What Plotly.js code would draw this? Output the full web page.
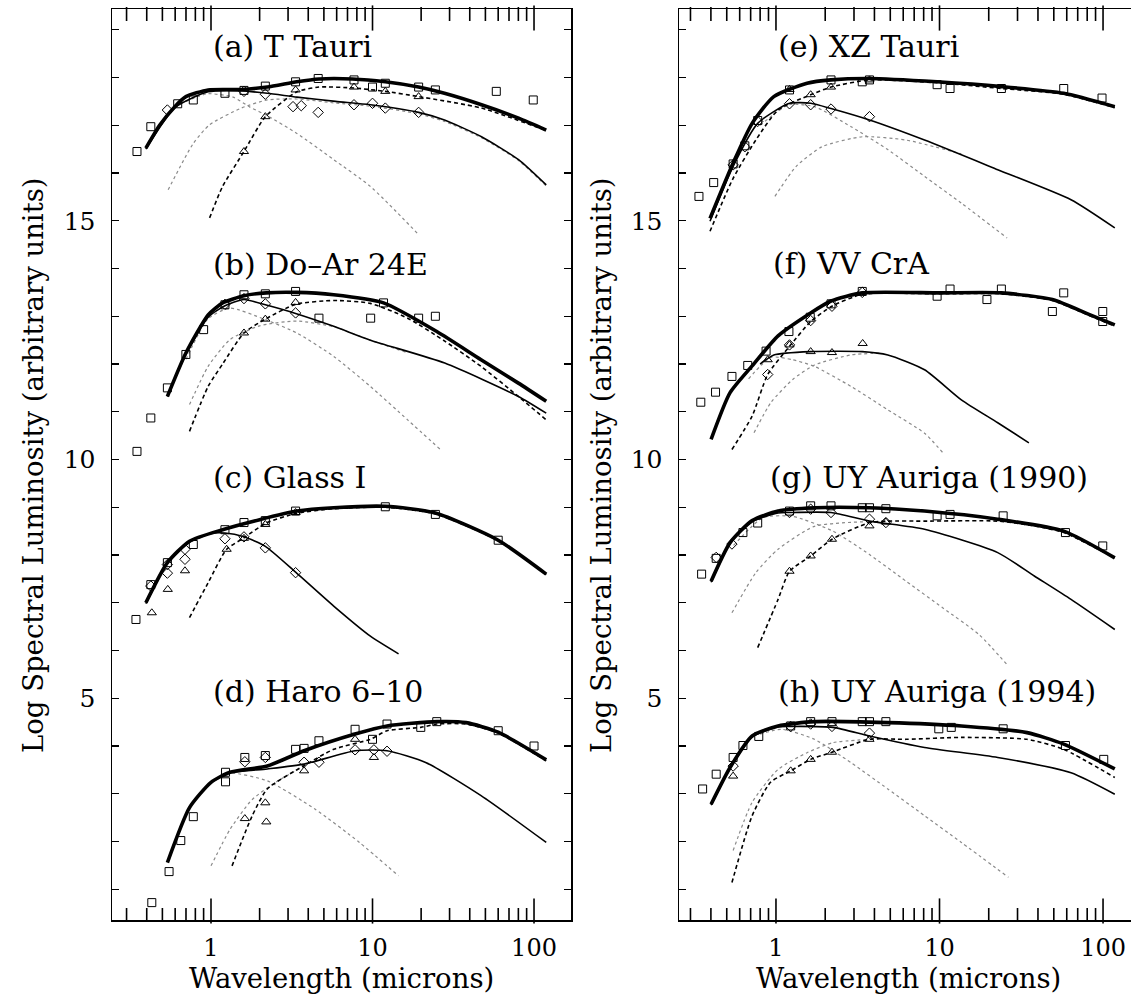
<!DOCTYPE html>
<html><head><meta charset="utf-8">
<script src="https://cdn.plot.ly/plotly-3.0.1.min.js"></script>
<style>html,body{margin:0;padding:0;background:#fff}#chart{width:1131px;height:996px}</style>
</head><body><div id="chart"></div>
<script>
// ---------- data: [wavelength (microns), log spectral luminosity] ----------
// (a) T Tauri
const a_sq = [[0.348,16.45],[0.424,16.97],[0.622,17.45],[0.777,17.53],[1.22,17.67],[1.60,17.73],[2.17,17.82],[3.34,17.91],[4.61,17.98],[7.68,17.95],[10.0,17.80],[12.0,17.88],[19.3,17.80],[24.5,17.74],[58.4,17.71],[98.9,17.53]];
const a_di = [[0.537,17.32],[1.60,17.71],[2.17,17.65],[3.22,17.39],[3.62,17.41],[4.61,17.27],[7.68,17.43],[10.0,17.46],[12.0,17.36],[19.3,17.27]];
const a_tr = [[1.60,16.45],[2.17,17.18],[3.34,17.74],[7.68,17.80],[12.0,17.71],[19.3,17.60]];
const a_tot = [[0.395,16.52],[0.483,17.01],[0.597,17.39],[0.699,17.60],[0.96,17.74],[1.54,17.75],[2.23,17.80],[3.40,17.91],[4.66,17.97],[7.49,17.97],[12.0,17.91],[19.3,17.80],[27.9,17.67],[47.3,17.43],[80.2,17.15],[119,16.90]];
const a_pri = [[0.395,16.50],[0.597,17.37],[0.96,17.70],[1.54,17.72],[2.23,17.67],[3.40,17.59],[5.9,17.50],[9.7,17.43],[19.3,17.27],[27.9,17.11],[47.3,16.76],[80.2,16.28],[119,15.75]];
const a_com = [[0.98,15.06],[1.18,15.72],[1.60,16.45],[2.17,17.18],[3.40,17.70],[4.66,17.80],[7.68,17.78],[12.0,17.71],[19.3,17.60],[47.3,17.36],[119,16.89]];
const a_star = [[0.7,17.5],[0.95,17.66],[1.37,17.59],[1.74,17.38],[2.23,17.20],[3.4,16.83],[5.75,16.28],[9.7,15.72],[19.3,14.71]];
const a_disk = [[0.543,15.65],[0.777,16.62],[0.98,17.01],[1.54,17.36],[2.23,17.53],[3.4,17.55],[5.75,17.47],[9.7,17.40],[19.3,17.24],[27.9,17.08],[47.3,16.74],[80.2,16.26],[119,15.73]];
// (b) Do-Ar 24E
const b_sq = [[0.348,10.17],[0.424,10.87],[0.537,11.50],[0.699,12.20],[0.90,12.72],[1.22,13.24],[1.60,13.45],[2.17,13.47],[3.34,13.52],[4.66,12.96],[9.74,12.96],[11.7,13.28],[19.3,12.96],[24.5,13.00]];
const b_di = [[1.22,13.25],[1.60,13.37],[2.17,13.26],[3.34,13.07]];
const b_tr = [[1.60,12.65],[2.17,12.94],[3.34,13.29]];
const b_tot = [[0.537,11.32],[0.699,12.23],[0.96,13.03],[1.18,13.28],[1.6,13.43],[2.2,13.49],[3.4,13.50],[5.75,13.45],[11.7,13.28],[25,12.68],[47,12.09],[80,11.60],[119,11.22]];
const b_pri = [[0.537,11.32],[0.699,12.2],[0.96,12.98],[1.22,13.22],[1.60,13.35],[2.17,13.24],[3.34,13.06],[5.75,12.79],[9.7,12.50],[28,12.02],[80,11.32],[119,10.97]];
const b_com = [[0.736,10.59],[0.96,11.53],[1.18,12.0],[1.60,12.65],[2.17,12.94],[3.34,13.25],[5.75,13.33],[9.7,13.27],[16.5,12.96],[28,12.48],[47,11.95],[80,11.32],[119,10.83]];
const b_star = [[0.7,12.1],[0.96,12.95],[1.31,13.17],[2.17,12.93],[3.4,12.65],[5.75,12.16],[9.7,11.53],[16.5,10.83],[26.5,10.20]];
const b_disk = [[0.736,11.15],[0.96,11.95],[1.31,12.51],[2.0,12.80],[3.4,12.90],[5.75,12.78],[9.7,12.50],[16,12.25]];
// (c) Glass I
const c_sq = [[0.343,6.65],[0.424,7.38],[0.537,7.84],[0.777,8.22],[1.22,8.53],[1.60,8.68],[2.17,8.72],[3.34,8.92],[12.0,9.01],[24.5,8.85],[60.0,8.31]];
const c_di = [[0.424,7.35],[0.537,7.62],[0.537,7.80],[0.69,7.91],[0.69,8.12],[1.22,8.34],[1.60,8.38],[2.17,8.15],[3.34,7.63]];
const c_tr = [[0.43,6.79],[0.54,7.28],[0.69,7.67],[1.25,8.12],[1.60,8.35],[2.17,8.64],[3.34,8.89]];
const c_tot = [[0.395,7.00],[0.537,7.84],[0.736,8.29],[1.18,8.53],[2.0,8.74],[3.4,8.92],[5.75,8.99],[12,9.02],[24.5,8.88],[60,8.31],[119,7.60]];
const c_pri = [[0.395,6.98],[0.537,7.82],[0.736,8.27],[1.0,8.45],[1.22,8.46],[1.6,8.38],[2.17,8.18],[3.34,7.64],[5.75,6.93],[9.7,6.30],[14.5,5.93]];
const c_com = [[0.736,6.69],[0.96,7.42],[1.25,8.12],[1.6,8.36],[2.17,8.66],[3.34,8.87],[5.75,8.97],[12,9.0],[24.5,8.86],[60,8.30],[119,7.59]];
// (d) Haro 6-10
const d_sq = [[0.43,0.72],[0.55,1.37],[0.65,2.02],[0.777,2.52],[1.23,3.25],[1.23,3.45],[1.62,3.76],[2.17,3.80],[3.34,3.93],[3.77,3.95],[4.66,4.11],[7.8,4.35],[10,4.14],[12.3,4.46],[19.9,4.39],[25,4.51],[60,4.32],[100,4.00]];
const d_di = [[1.62,3.67],[2.17,3.76],[3.77,3.66],[4.66,3.66],[7.8,3.92],[10.2,3.92],[12.3,3.89]];
const d_tr = [[1.62,2.48],[2.17,2.81],[2.2,2.41],[3.77,3.48],[7.8,4.14],[10.2,3.76]];
const d_tot = [[0.537,1.56],[0.736,2.71],[1.0,3.24],[1.31,3.45],[2.23,3.58],[3.77,3.90],[7.8,4.25],[12.3,4.42],[25,4.51],[38,4.49],[60,4.29],[119,3.71]];
const d_pri = [[1.0,3.24],[1.31,3.44],[2.23,3.52],[3.77,3.62],[7.8,3.90],[12.3,3.90],[21.5,3.65],[47,2.96],[119,1.98]];
const d_com = [[1.35,1.49],[1.80,2.54],[2.23,3.10],[3.77,3.59],[5.75,3.93],[9.7,4.14],[12.3,4.32],[19.9,4.39],[25,4.46],[38,4.46],[60,4.27],[119,3.69]];
const d_star = [[1.0,3.22],[1.31,3.43],[2.23,3.27],[4.4,2.68],[8.3,1.98],[14.5,1.28]];
const d_disk = [[1.0,1.49],[1.31,2.25],[1.8,2.88],[2.6,3.27],[3.77,3.58]];
// (e) XZ Tauri
const e_sq = [[0.338,15.51],[0.416,15.80],[0.547,16.19],[0.645,16.57],[0.773,17.10],[1.21,17.74],[2.17,17.95],[3.37,17.91],[3.73,17.95],[9.67,17.85],[11.6,17.77],[23.9,17.77],[57.5,17.77],[98.6,17.57]];
const e_di = [[0.547,16.17],[0.645,16.55],[0.773,17.08],[1.21,17.45],[1.63,17.43],[2.17,17.34],[3.73,17.18]];
const e_tr = [[1.21,17.75],[1.63,17.64],[2.17,17.80],[3.73,17.95]];
const e_tot = [[0.395,15.05],[0.547,16.21],[0.715,17.04],[0.97,17.60],[1.55,17.88],[2.17,17.95],[3.73,17.98],[9.67,17.91],[23.9,17.81],[57.5,17.67],[118,17.39]];
const e_pri = [[0.395,14.99],[0.547,16.14],[0.773,17.04],[1.21,17.46],[1.63,17.46],[2.17,17.35],[3.73,17.11],[8.1,16.69],[22.7,16.07],[63.7,15.44],[118,14.85]];
const e_com = [[0.395,14.78],[0.547,15.89],[0.753,16.69],[1.03,17.32],[1.63,17.64],[2.17,17.80],[3.73,17.95],[9.67,17.89],[23.9,17.77],[57.5,17.65],[118,17.37]];
const e_star = [[0.8,17.0],[1.2,17.43],[1.72,17.39],[2.88,16.97],[4.83,16.49],[8.1,15.93],[13.6,15.37],[25.9,14.64]];
const e_disk = [[0.985,15.51],[1.33,16.14],[1.91,16.55],[3.37,16.76],[6.25,16.69],[13.6,16.40]];
// (f) VV CrA
const f_sq = [[0.347,11.20],[0.427,11.41],[0.538,11.74],[0.672,11.97],[0.87,12.27],[1.2,12.68],[1.62,12.98],[2.17,13.26],[3.37,13.52],[9.67,13.42],[11.6,13.57],[19.5,13.35],[23.9,13.57],[49,13.10],[57.5,13.49],[99.6,13.10],[99.6,12.89]];
const f_di = [[0.89,11.78],[1.21,12.40],[1.63,12.91],[2.2,13.21],[3.37,13.50]];
const f_tr = [[0.89,12.09],[1.21,12.40],[1.63,12.26],[2.2,12.24],[3.39,12.43]];
const f_tot = [[0.401,10.42],[0.524,11.40],[0.715,11.96],[1.03,12.59],[1.63,13.07],[2.17,13.32],[3.37,13.49],[10,13.49],[23.9,13.49],[49,13.35],[82,13.04],[118,12.82]];
const f_pri = [[0.8,12.0],[0.97,12.19],[1.63,12.26],[3.37,12.26],[4.83,12.19],[8.1,11.88],[13.6,11.25],[22.7,10.77],[35.2,10.35]];
const f_com = [[0.538,10.21],[0.715,10.91],[0.89,11.78],[1.21,12.37],[1.63,12.89],[2.2,13.21],[3.37,13.46],[10,13.47],[23.9,13.47],[49,13.33],[82,13.02],[118,12.79]];
const f_star = [[0.68,11.69],[0.93,12.14],[1.26,12.09],[1.72,11.95],[2.88,11.53],[4.83,11.04],[8.1,10.55],[10.5,10.14]];
const f_disk = [[0.734,10.56],[0.93,11.19],[1.26,11.67],[1.72,11.98],[2.88,12.19],[4.35,12.23]];
// (g) UY Auriga (1990)
const g_sq = [[0.351,7.60],[0.431,7.93],[0.628,8.47],[0.773,8.67],[1.21,8.92],[1.63,9.03],[2.17,9.03],[3.37,8.99],[3.73,8.99],[4.7,8.97],[9.67,8.82],[11.6,8.85],[24.5,8.82],[58.9,8.47],[99.6,8.19]];
const g_di = [[0.431,7.95],[0.538,8.23],[1.21,8.89],[1.63,8.96],[2.17,8.89],[3.73,8.75],[4.7,8.68]];
const g_tr = [[1.21,7.66],[1.63,7.98],[2.2,8.33],[3.73,8.61],[4.7,8.69]];
const g_tot = [[0.401,7.45],[0.524,8.26],[0.715,8.72],[1.03,8.92],[1.72,8.99],[3.73,8.99],[8.1,8.92],[22.7,8.75],[57.5,8.50],[118,7.94]];
const g_pri = [[0.401,7.43],[0.524,8.24],[0.715,8.70],[1.03,8.88],[1.21,8.89],[2.17,8.89],[3.73,8.71],[8.1,8.54],[22.7,8.05],[38,7.56],[63.7,7.07],[118,6.44]];
const g_com = [[0.773,6.06],[1.03,7.07],[1.21,7.66],[1.63,7.98],[2.2,8.33],[3.73,8.68],[4.83,8.71],[8.1,8.71],[22.7,8.71],[38,8.61],[57.5,8.47],[118,7.94]];
const g_star = [[0.55,8.2],[0.83,8.78],[1.26,8.81],[2.23,8.50],[3.73,8.01],[6.25,7.45],[10.5,6.89],[17.5,6.33],[26.4,5.67]];
const g_disk = [[0.538,6.79],[0.753,7.63],[1.03,8.12],[1.72,8.60],[3.73,8.70]];
// (h) UY Auriga (1994)
const h_sq = [[0.356,3.10],[0.431,3.41],[0.547,3.76],[0.628,4.01],[0.785,4.20],[1.23,4.42],[1.63,4.51],[2.2,4.51],[3.37,4.51],[3.73,4.51],[4.7,4.51],[9.9,4.36],[11.8,4.39],[24.5,4.36],[58.9,4.01],[101,3.72]];
const h_di = [[0.547,3.58],[1.23,4.41],[1.63,4.46],[2.2,4.41],[3.73,4.27]];
const h_tr = [[0.547,3.37],[1.23,3.48],[1.63,3.72],[2.2,3.87],[3.73,4.14]];
const h_tot = [[0.401,2.78],[0.524,3.55],[0.715,4.21],[1.03,4.42],[1.72,4.51],[4.83,4.49],[13.6,4.42],[34.3,4.28],[57.5,4.04],[118,3.52]];
const h_pri = [[0.401,2.76],[0.524,3.53],[0.715,4.19],[1.03,4.40],[1.23,4.41],[2.23,4.39],[3.73,4.21],[8.1,3.97],[22.7,3.76],[63.7,3.44],[118,2.99]];
const h_com = [[0.538,1.14],[0.715,2.54],[0.926,3.24],[1.23,3.48],[1.63,3.72],[2.2,3.87],[3.73,4.14],[6.25,4.14],[13.6,4.18],[34.3,4.14],[57.5,3.93],[118,3.34]];
const h_star = [[0.8,4.25],[1.08,4.35],[1.72,4.14],[2.88,3.65],[4.83,3.10],[8.1,2.54],[13.6,1.98],[26.4,1.25]];
const h_disk = [[0.547,1.81],[0.715,2.82],[1.03,3.51],[1.55,3.86],[2.23,4.07],[3.73,4.14]];

const labels = ["(a) T Tauri","(b) Do\u2013Ar 24E","(c) Glass I","(d) Haro 6\u201310","(e) XZ Tauri","(f) VV CrA","(g) UY Auriga (1990)","(h) UY Auriga (1994)"];
const yTitle = "Log Spectral Luminosity (arbitrary units)";
const xTitle = "Wavelength (microns)";
const xMajor = [1,10,100];
const xMinor = [0.3,0.4,0.5,0.6,0.7,0.8,0.9,2,3,4,5,6,7,8,9,20,30,40,50,60,70,80,90];

// ---------- build ----------
const FONT = "'DejaVu Serif', 'Liberation Serif', serif";
const W = 1131, H = 996;
const Y_BOT = 1 - 920/H, Y_TOP = 1 - 9/H;
const YR = [0.356, 19.435];
const PX = (YR[1]-YR[0]) / (920-9);   // axis units per pixel
const L = {x:'x', y:'y'}, R = {x:'x2', y:'y2'};
const panels = [
  {ax:L, star:a_star, disk:a_disk, com:a_com, pri:a_pri, tot:a_tot, sq:a_sq, di:a_di, tr:a_tr, lab:labels[0], lx:0, ly:18.64},
  {ax:L, star:b_star, disk:b_disk, com:b_com, pri:b_pri, tot:b_tot, sq:b_sq, di:b_di, tr:b_tr, lab:labels[1], lx:0, ly:14.08},
  {ax:L, star:null,   disk:null,   com:c_com, pri:c_pri, tot:c_tot, sq:c_sq, di:c_di, tr:c_tr, lab:labels[2], lx:0, ly:9.62},
  {ax:L, star:d_star, disk:d_disk, com:d_com, pri:d_pri, tot:d_tot, sq:d_sq, di:d_di, tr:d_tr, lab:labels[3], lx:0, ly:5.15},
  {ax:R, star:e_star, disk:e_disk, com:e_com, pri:e_pri, tot:e_tot, sq:e_sq, di:e_di, tr:e_tr, lab:labels[4], lx:0, ly:18.65},
  {ax:R, star:f_star, disk:f_disk, com:f_com, pri:f_pri, tot:f_tot, sq:f_sq, di:f_di, tr:f_tr, lab:labels[5], lx:-0.03, ly:14.10},
  {ax:R, star:g_star, disk:g_disk, com:g_com, pri:g_pri, tot:g_tot, sq:g_sq, di:g_di, tr:g_tr, lab:labels[6], lx:-0.05, ly:9.62},
  {ax:R, star:h_star, disk:h_disk, com:h_com, pri:h_pri, tot:h_tot, sq:h_sq, di:h_di, tr:h_tr, lab:labels[7], lx:0, ly:5.15}
];
const STY = {
  star:{color:'#8a8a8a', width:1.2, dash:'dot', shape:'spline', smoothing:0.6},
  disk:{color:'#8a8a8a', width:1.2, dash:'dot', shape:'spline', smoothing:0.6},
  com:{color:'#000', width:1.6, dash:'4px,3px', shape:'spline', smoothing:0.6},
  pri:{color:'#000', width:1.6, shape:'spline', smoothing:0.6},
  tot:{color:'#000', width:3.6, shape:'spline', smoothing:0.6}
};
const SYM = {sq:'square-open', di:'diamond-open', tr:'triangle-up-open'};
const traces = [];
const annotations = [];
for (const p of panels) {
  for (const k of ['star','disk','com','pri','tot']) {
    if (!p[k]) continue;
    traces.push({x:p[k].map(v=>v[0]), y:p[k].map(v=>v[1]), xaxis:p.ax.x, yaxis:p.ax.y,
      mode:'lines', line:STY[k], hoverinfo:'skip'});
  }
  for (const k of ['sq','di','tr']) {
    traces.push({x:p[k].map(v=>v[0]), y:p[k].map(v=>v[1]), xaxis:p.ax.x, yaxis:p.ax.y,
      mode:'markers', marker:{symbol:SYM[k], size:8, color:'#000', line:{width:1, color:'#000'}}, hoverinfo:'skip'});
  }
  annotations.push({xref:p.ax.x, yref:p.ax.y, x:p.lx, y:p.ly, text:p.lab, showarrow:false,
    xanchor:'left', yanchor:'middle', font:{family:FONT, size:30, color:'#000'}});
}
// inward x tick marks on the bottom and top frame edges, placed at the tick values on each log axis
for (const ax of [L, R]) {
  for (const [vals, len] of [[xMajor, 18], [xMinor, 10]]) {
    for (const yc of [YR[0] + len*PX/2, YR[1] - len*PX/2]) {
      traces.push({x:vals, y:vals.map(()=>yc), xaxis:ax.x, yaxis:ax.y, mode:'markers', cliponaxis:false,
        marker:{symbol:'line-ns-open', size:len, color:'#000', line:{width:1.6, color:'#000'}}, hoverinfo:'skip'});
    }
  }
}
annotations.push({xref:'paper', yref:'paper', x:33/W, y:1-465/H, text:yTitle, textangle:-90, showarrow:false, xanchor:'center', yanchor:'middle', font:{family:FONT, size:27.5, color:'#000'}});
annotations.push({xref:'paper', yref:'paper', x:601/W, y:1-465/H, text:yTitle, textangle:-90, showarrow:false, xanchor:'center', yanchor:'middle', font:{family:FONT, size:27.5, color:'#000'}});
annotations.push({xref:'paper', yref:'paper', x:341.5/W, y:1-978/H, text:xTitle, showarrow:false, xanchor:'center', yanchor:'middle', font:{family:FONT, size:27.5, color:'#000'}});
annotations.push({xref:'paper', yref:'paper', x:908/W, y:1-978/H, text:xTitle, showarrow:false, xanchor:'center', yanchor:'middle', font:{family:FONT, size:27.5, color:'#000'}});

const xCommon = {type:'log', showline:true, linecolor:'#000', linewidth:1.5, mirror:true,
  ticks:'', tickmode:'array', tickvals:xMajor, ticktext:xMajor.map(String),
  showgrid:false, zeroline:false, ticklabelstandoff:6, tickfont:{family:FONT, size:24, color:'#000'}};
const yCommon = {range:YR, domain:[Y_BOT, Y_TOP], showline:true, linecolor:'#000', linewidth:1.5,
  ticks:'inside', ticklen:7, tickwidth:1.4, tickcolor:'#000', tick0:0, dtick:5,
  minor:{ticks:'inside', ticklen:7, tickwidth:1.2, tickcolor:'#000', tick0:0, dtick:1, showgrid:false},
  showgrid:false, zeroline:false, ticklabelstandoff:10, tickfont:{family:FONT, size:25, color:'#000'}};

const layout = {
  width:W, height:H, margin:{l:0, r:0, t:0, b:0}, showlegend:false,
  paper_bgcolor:'#fff', plot_bgcolor:'#fff',
  xaxis:Object.assign({}, xCommon, {range:[-0.613,2.229], domain:[112/W, 571/W], anchor:'y'}),
  yaxis:Object.assign({}, yCommon, {anchor:'x', mirror:'allticks'}),
  xaxis2:Object.assign({}, xCommon, {range:[-0.593,2.171], domain:[679/W, 1], anchor:'y2'}),
  yaxis2:Object.assign({}, yCommon, {anchor:'x2', mirror:false}),
  annotations:annotations
};
Plotly.newPlot('chart', traces, layout, {displayModeBar:false, staticPlot:true});
</script></body></html>
